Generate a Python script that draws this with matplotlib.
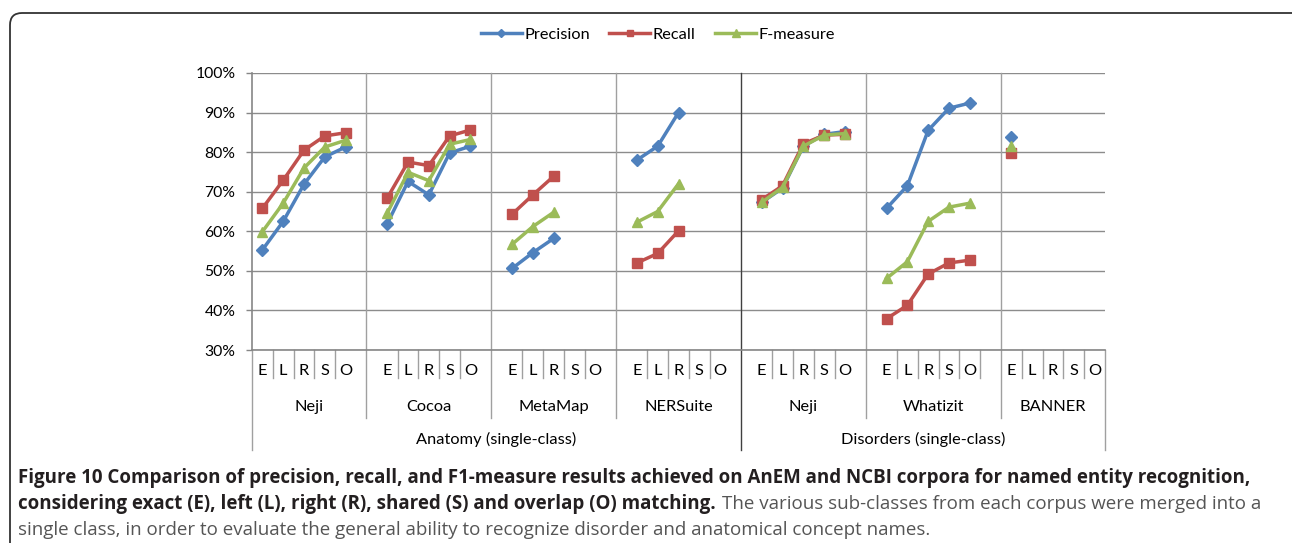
import numpy as np
import matplotlib.pyplot as plt
from matplotlib.lines import Line2D
from matplotlib.patches import FancyBboxPatch

plt.rcParams['font.family'] = ['Lato', 'DejaVu Sans']

# data (percent), order E L R S O, nan = no value
methods = ["E", "L", "R", "S", "O"]
tools = ["Neji", "Cocoa", "MetaMap", "NERSuite", "Neji", "Whatizit", "BANNER"]
corpora = ["Anatomy (single-class)", "Disorders (single-class)"]
nan = np.nan
precision = [
    [55.3, 62.5, 71.9, 78.8, 81.3],
    [61.9, 72.6, 69.2, 79.8, 81.5],
    [50.6, 54.6, 58.2, nan, nan],
    [78.0, 81.5, 90.0, nan, nan],
    [67.3, 70.9, 81.5, 84.5, 85.2],
    [65.8, 71.5, 85.5, 91.1, 92.4],
    [83.8, nan, nan, nan, nan],
]
recall = [
    [65.8, 72.9, 80.5, 84.1, 84.9],
    [68.4, 77.5, 76.6, 84.1, 85.6],
    [64.3, 69.2, 73.9, nan, nan],
    [52.0, 54.4, 60.1, nan, nan],
    [68.0, 71.5, 82.1, 84.3, 84.5],
    [37.9, 41.3, 49.2, 52.0, 52.7],
    [79.8, nan, nan, nan, nan],
]
fmeasure = [
    [59.9, 67.1, 76.0, 81.3, 83.0],
    [64.6, 74.9, 72.8, 82.0, 83.2],
    [56.7, 61.2, 64.8, nan, nan],
    [62.3, 65.0, 72.0, nan, nan],
    [67.3, 71.1, 81.5, 84.3, 84.7],
    [48.1, 52.3, 62.5, 66.1, 67.1],
    [81.5, nan, nan, nan, nan],
]

# category layout: 5 slots per tool plus an empty slot between tools
starts = [0, 6, 12, 18, 24, 30, 36]
dividers = [-0.5, 5, 11, 17, 23, 29, 35.5, 40.5]
corpus_split = 23

W, H = 1292, 543
fig = plt.figure(figsize=(W / 100, H / 100), dpi=100)
ax = fig.add_axes([252 / W, 1 - 350 / H, 853 / W, 277 / H])


def ay(py):
    # pixel row -> axes fraction
    return (350 - py) / 277


def flat(vals):
    xs, ys = [], []
    for s, row in zip(starts, vals):
        xs += [s + k for k in range(5)] + [nan]
        ys += list(row) + [nan]
    return np.array(xs), np.array(ys) / 100


series = [
    ("Precision", precision, "#4F81BD", "D", 6),
    ("Recall", recall, "#C0504D", "s", 6.5),
    ("F-measure", fmeasure, "#9BBB59", "^", 7.5),
]
handles = []
for name, vals, col, mk, ms in series:
    x, y = flat(vals)
    ax.plot(x, y, color=col, lw=2.5, marker=mk, ms=ms, mec=col, mfc=col, zorder=3)
    handles.append(Line2D([], [], color=col, lw=2.5, marker=mk, ms=ms - 2, label=name))

ax.set_xlim(-0.5, 40.5)
ax.set_ylim(0.3, 1.0)
ax.set_yticks(np.arange(0.3, 1.01, 0.1))
ax.set_yticklabels([f"{int(round(v * 100))}%" for v in np.arange(0.3, 1.01, 0.1)], fontsize=11.3)
ax.set_xticks([])
ax.tick_params(axis='y', length=4, width=1, color="#868686", pad=8)
ax.grid(axis='y', color="#8c8c8c", lw=1)
for side in ["top", "right"]:
    ax.spines[side].set_visible(False)
ax.spines["left"].set_color("#868686")
ax.spines["bottom"].set_color("#868686")
ax.spines["left"].set_linewidth(1.2)
ax.spines["bottom"].set_linewidth(1.2)

xt = ax.get_xaxis_transform()
line_kw = dict(transform=xt, clip_on=False, lw=1)

# divider lines through the plot and the label rows
for d in dividers[1:-1]:
    if d == corpus_split:
        ax.plot([d, d], [1, ay(450)], color="#404040", **line_kw)
    else:
        ax.plot([d, d], [1, ay(418)], color="#a0a0a0", **line_kw)
ax.plot([-0.5, -0.5], [0, ay(450)], color="#a0a0a0", **line_kw)
ax.plot([40.5, 40.5], [0, ay(450)], color="#a0a0a0", **line_kw)

# small ticks between method labels
minor = [s + k + 0.5 for s in starts for k in range(4)] + [34.5]
for m in minor:
    ax.plot([m, m], [0, ay(378)], color="#a0a0a0", **line_kw)

lab_fs = 11.8
for s in starts:
    for k, lab in enumerate(methods):
        ax.text(s + k, ay(371), lab, transform=xt, ha="center", va="center", fontsize=lab_fs)

for i, name in enumerate(tools):
    cx = (dividers[i] + dividers[i + 1]) / 2
    ax.text(cx, ay(407), name, transform=xt, ha="center", va="center", fontsize=lab_fs)

for name, (a, b) in zip(corpora, [(-0.5, corpus_split), (corpus_split, 40.5)]):
    ax.text((a + b) / 2, ay(439), name, transform=xt, ha="center", va="center", fontsize=lab_fs)

fig.legend(handles=handles, loc="center", bbox_to_anchor=(658 / W, 1 - 35 / H), ncol=3,
           frameon=False, fontsize=11.8, handlelength=2.5, handletextpad=0.15,
           columnspacing=1.2)

# outer frame
frame = FancyBboxPatch((0.10, -0.5), 12.95, 5.30 + 0.5, boxstyle="round,pad=0,rounding_size=0.12",
                       transform=fig.dpi_scale_trans, fill=False, ec="#333333", lw=1.3,
                       clip_on=False)
fig.add_artist(frame)

# caption
cap_font = ['Open Sans', 'DejaVu Sans']
cap_fs = 13.5
fig.text(18 / W, 1 - 478 / H,
         "Figure 10 Comparison of precision, recall, and F1-measure results achieved on AnEM and NCBI corpora for named entity recognition,",
         fontsize=cap_fs, fontweight="bold", color="#231f20", va="center", family=cap_font)
bold2 = fig.text(18 / W, 1 - 504 / H,
                 "considering exact (E), left (L), right (R), shared (S) and overlap (O) matching.",
                 fontsize=cap_fs, fontweight="bold", color="#231f20", va="center", family=cap_font)
fig.canvas.draw()
bb = bold2.get_window_extent()
fig.text(bb.x1 / W + 6 / W, 1 - 504 / H,
         "The various sub-classes from each corpus were merged into a",
         fontsize=cap_fs, color="#555555", va="center", family=cap_font)
fig.text(18 / W, 1 - 530 / H,
         "single class, in order to evaluate the general ability to recognize disorder and anatomical concept names.",
         fontsize=cap_fs, color="#555555", va="center", family=cap_font)

fig.savefig("out.png", dpi=100)
